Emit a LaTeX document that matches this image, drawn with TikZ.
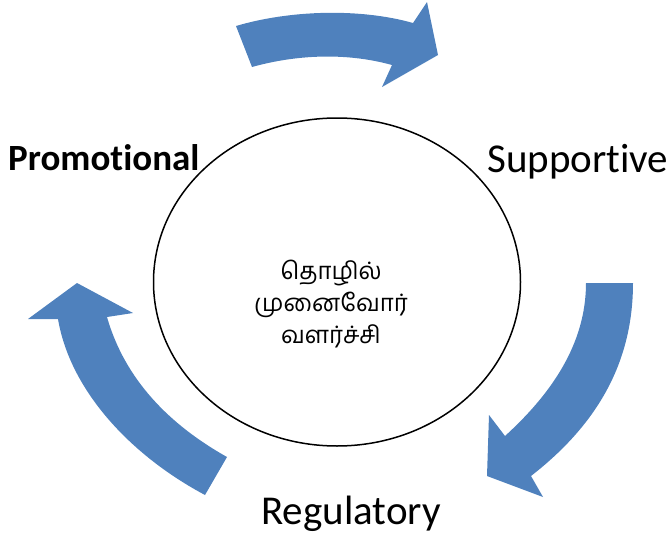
\documentclass[tikz,border=0pt]{standalone}
\usepackage{fontspec}
\setmainfont{Carlito}[Ligatures=NoCommon]
\newfontfamily\tamilfont[Script=Tamil]{Hind Madurai}
\usetikzlibrary{shapes.geometric}
\definecolor{arrowblue}{HTML}{4F81BD}
\begin{document}
\begin{tikzpicture}[x=1pt,y=-1pt,
  band/.style={fill=arrowblue, draw=none},
  lbl/.style={inner sep=0pt, anchor=base west},
  oval/.style={draw=black, line width=1.5pt, ellipse, inner sep=0pt, minimum width=367pt, minimum height=328pt}]
\useasboundingbox (0,0) rectangle (670,538);
% central ellipse
\node[oval] (circle) at (337,282) {};
\node[align=center, inner sep=0pt, font=\tamilfont\fontsize{24}{32}\selectfont] (core) at (331,304) {தொழில்\\முனைவோர்\\வளர்ச்சி};
% top arrow
\path[band] (236,26) .. controls (290,10) and (360,8) .. (413,23) -- (427,2) -- (438,55) -- (382,87) -- (392,65) .. controls (345,52) and (295,55) .. (252,67) -- cycle;
% right arrow
\path[band] (586,283) -- (633,283) .. controls (633,370) and (590,430) .. (531,476) -- (543,497) -- (487,476) -- (489,415) -- (505,436) .. controls (550,395) and (586,345) .. (586,283) -- cycle;
% left arrow
\path[band] (77,283) -- (133,313) -- (107,317) .. controls (125,380) and (170,425) .. (227,457) -- (205,495) .. controls (130,455) and (70,390) .. (58,319) -- (28,319) -- cycle;
% labels
\node[lbl, font=\bfseries\fontsize{37}{40}\selectfont] (promo) at (8,170) {Promotional};
\node[lbl, font=\fontsize{41}{44}\selectfont] (supp) at (487,172) {Supportive};
\node[lbl, font=\fontsize{41}{44}\selectfont] (reg) at (261,524) {Regulatory};
\end{tikzpicture}
\end{document}
